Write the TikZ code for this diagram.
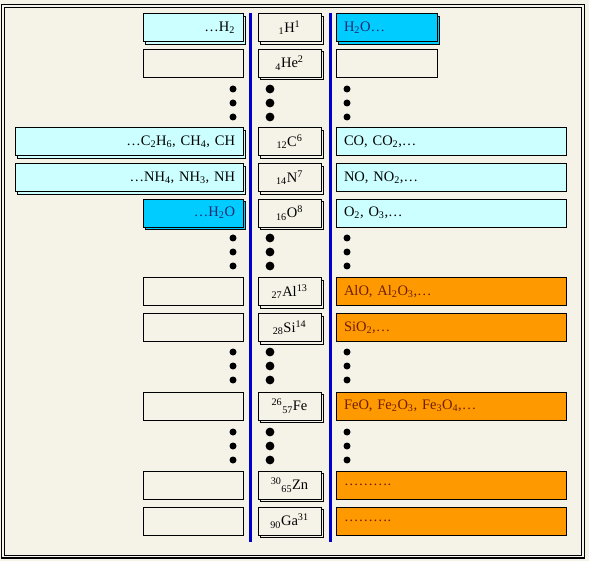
\documentclass[tikz,border=0pt]{standalone}
\usepackage{fontspec}
\setmainfont{Liberation Serif}
\usetikzlibrary{shadows,positioning}
\definecolor{paper}{RGB}{245,243,232}
\definecolor{lightcyan}{RGB}{204,255,255}
\definecolor{skycyan}{RGB}{0,204,255}
\definecolor{amber}{RGB}{255,153,0}
\definecolor{rulecol}{RGB}{0,0,204}
\definecolor{brownink}{RGB}{110,30,0}
\definecolor{navyink}{RGB}{30,40,110}
\newcommand{\isolo}[1]{\textsubscript{#1}}
\newcommand{\isohi}[1]{\textsuperscript{#1}}

\begin{document}
\begin{tikzpicture}
[x=1pt,y=-1pt,
font=\fontsize{14.5}{17}\selectfont,
box/.style={shape=rectangle,draw=black,line width=0.9pt,minimum height=28pt,inner ysep=0pt,inner xsep=8pt},
leftbox/.style={box,text width=84pt,align=right},
widebox/.style={box,text width=212pt,align=right},
elembox/.style={box,minimum width=63pt,inner xsep=2pt,fill=paper,shadowed},
rightbox/.style={box,text width=85pt,align=left},
rwidebox/.style={box,text width=214pt,align=left},
shadowed/.style={copy shadow={shadow xshift=2.5pt,shadow yshift=-2.5pt}},
lightfill/.style={fill=lightcyan},
skyfill/.style={fill=skycyan,text=navyink},
amberfill/.style={fill=amber,text=brownink},
emptyfill/.style={fill=paper},
divider/.style={draw=rulecol,line width=3pt}]

\useasboundingbox (0,0) rectangle (589,561);
\fill[paper] (0,0) rectangle (589,561);

% left column
\node (h2left) [leftbox,lightfill,shadowed] at (193,27.5) {\ldots H\isolo{2}};
\node (heleft) [leftbox,emptyfill] at (193,63) {};
\node (cleft) [widebox,lightfill,shadowed] at (129,141.5) {\ldots C\isolo{2}H\isolo{6}, CH\isolo{4}, CH};
\node (nleft) [widebox,lightfill,shadowed] at (129,177.5) {\ldots NH\isolo{4}, NH\isolo{3}, NH};
\node (oleft) [leftbox,skyfill,shadowed] at (193,213) {\ldots H\isolo{2}O};
\node (alleft) [leftbox,emptyfill] at (193,291.5) {};
\node (sileft) [leftbox,emptyfill] at (193,327.5) {};
\node (feleft) [leftbox,emptyfill] at (193,406) {};
\node (znleft) [leftbox,emptyfill] at (193,485) {};
\node (galeft) [leftbox,emptyfill] at (193,521) {};

% elements
\node (hyd) [elembox] at (289.5,27.5) {\isolo{1}H\isohi{1}};
\node (hel) [elembox] at (289.5,63) {\isolo{4}He\isohi{2}};
\node (carb) [elembox] at (289.5,141.5) {\isolo{12}C\isohi{6}};
\node (nitr) [elembox] at (289.5,177.5) {\isolo{14}N\isohi{7}};
\node (oxy) [elembox] at (289.5,213) {\isolo{16}O\isohi{8}};
\node (alum) [elembox] at (289.5,291.5) {\isolo{27}Al\isohi{13}};
\node (sil) [elembox] at (289.5,327.5) {\isolo{28}Si\isohi{14}};
\node (iron) [elembox] at (289.5,406) {\isohi{26}\isolo{57}Fe};
\node (zinc) [elembox] at (289.5,485) {\isohi{30}\isolo{65}Zn};
\node (gall) [elembox] at (289.5,521) {\isolo{90}Ga\isohi{31}};

% right column
\node (h2oright) [rightbox,skyfill,shadowed] at (386.5,27.5) {H\isolo{2}O\ldots};
\node (heright) [rightbox,emptyfill] at (386.5,63) {};
\node (cright) [rwidebox,lightfill] at (451,141.5) {CO, CO\isolo{2},\ldots};
\node (nright) [rwidebox,lightfill] at (451,177.5) {NO, NO\isolo{2},\ldots};
\node (oright) [rwidebox,lightfill] at (451,213) {O\isolo{2}, O\isolo{3},\ldots};
\node (alright) [rwidebox,amberfill] at (451,291.5) {AlO, Al\isolo{2}O\isolo{3},\ldots};
\node (siright) [rwidebox,amberfill] at (451,327.5) {SiO\isolo{2},\ldots};
\node (feright) [rwidebox,amberfill] at (451,406) {FeO, Fe\isolo{2}O\isolo{3}, Fe\isolo{3}O\isolo{4},\ldots};
\node (znright) [rwidebox,amberfill] at (451,485) {\ldots\ldots\ldots.};
\node (garight) [rwidebox,amberfill] at (451,521) {\ldots\ldots\ldots.};

% gaps in the table
\foreach \y in {89,103,117,238,252,266,352,366,380,432,446,460} {
  \fill (233,\y) circle (3.5pt);
  \fill (270,\y) circle (4.4pt);
  \fill (347,\y) circle (3.5pt);
}

% dividers
\draw[divider] (250.5,13) -- (250.5,542);
\draw[divider] (330,13) -- (330,542);

% frame
\draw[line width=1.6pt] (1.5,4.5) rectangle (584.5,558);
\draw[line width=0.8pt] (4.5,7.5) rectangle (581,555);

\end{tikzpicture}
\end{document}
